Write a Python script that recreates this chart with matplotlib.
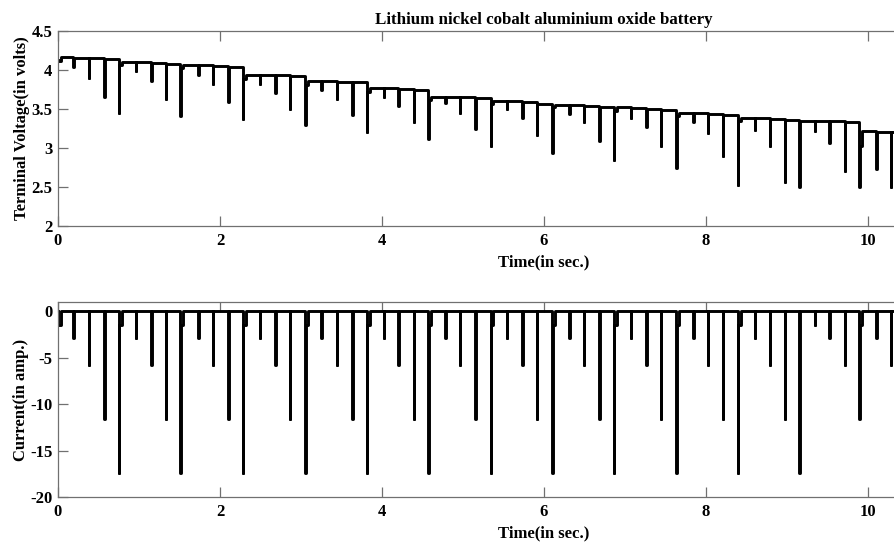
import matplotlib
matplotlib.use('Agg')
import matplotlib.pyplot as plt

plt.rcParams['font.family'] = ['Liberation Serif', 'DejaVu Serif']
plt.rcParams['font.weight'] = 'bold'
plt.rcParams['axes.unicode_minus'] = False

# pulse times (s)
pulse_t = [0.00, 0.19, 0.38, 0.57, 0.75,
           0.96, 1.15, 1.33, 1.51,
           1.73, 1.91, 2.10, 2.28,
           2.49, 2.68, 2.86, 3.05,
           3.25, 3.44, 3.63, 3.81,
           4.02, 4.20, 4.39, 4.57,
           4.78, 4.96, 5.15, 5.34,
           5.54, 5.73, 5.91, 6.10,
           6.31, 6.49, 6.68, 6.86,
           7.07, 7.26, 7.44, 7.63,
           7.84, 8.02, 8.21, 8.39,
           8.60, 8.79, 8.97, 9.15,
           9.34, 9.52, 9.71, 9.89,
           10.10, 10.28]

# pulse current (A)
pulse_i = [-1.5, -2.9, -5.8, -11.6, -17.4,
           -2.9, -5.8, -11.6, -17.4,
           -2.9, -5.8, -11.6, -17.4,
           -2.9, -5.8, -11.6, -17.4,
           -2.9, -5.8, -11.6, -17.4,
           -2.9, -5.8, -11.6, -17.4,
           -2.9, -5.8, -11.6, -17.4,
           -2.9, -5.8, -11.6, -17.4,
           -2.9, -5.8, -11.6, -17.4,
           -2.9, -5.8, -11.6, -17.4,
           -2.9, -5.8, -11.6, -17.4,
           -2.9, -5.8, -11.6, -17.4,
           -1.5, -2.9, -5.8, -11.6,
           -2.9, -5.8]

# short low-current tail after some pulses (A), 0 = none
tail_i = [-1.5, 0, 0, 0, -1.5,
          0, 0, 0, -1.5,
          0, 0, 0, -1.5,
          0, 0, 0, -1.5,
          0, 0, 0, -1.5,
          0, 0, 0, -1.5,
          0, 0, 0, -1.5,
          0, 0, 0, -1.5,
          0, 0, 0, -1.5,
          0, 0, 0, -1.5,
          0, 0, 0, -1.5,
          0, 0, 0, 0,
          0, 0, 0, -1.5,
          0, 0]

# terminal voltage just before each pulse (V)
v_pre = [4.13, 4.17, 4.16, 4.15, 4.14,
         4.10, 4.10, 4.09, 4.08,
         4.06, 4.06, 4.05, 4.04,
         3.94, 3.94, 3.93, 3.92,
         3.86, 3.86, 3.85, 3.84,
         3.77, 3.77, 3.76, 3.75,
         3.66, 3.66, 3.65, 3.64,
         3.60, 3.60, 3.59, 3.57,
         3.55, 3.55, 3.54, 3.53,
         3.52, 3.51, 3.50, 3.49,
         3.45, 3.45, 3.43, 3.42,
         3.39, 3.38, 3.37, 3.36,
         3.35, 3.34, 3.34, 3.33,
         3.22, 3.21]

# voltage dip during each pulse (V)
v_min = [4.12, 4.04, 3.90, 3.66, 3.45,
         3.99, 3.86, 3.63, 3.41,
         3.93, 3.82, 3.59, 3.37,
         3.82, 3.71, 3.50, 3.29,
         3.74, 3.63, 3.42, 3.21,
         3.65, 3.54, 3.33, 3.12,
         3.58, 3.45, 3.24, 3.02,
         3.50, 3.39, 3.17, 2.94,
         3.44, 3.33, 3.09, 2.85,
         3.39, 3.27, 3.03, 2.74,
         3.33, 3.19, 2.90, 2.53,
         3.23, 3.03, 2.57, 2.50,
         3.22, 3.06, 2.71, 2.50,
         2.73, 2.50]

# voltage during the tail (V)
v_tail = [4.12, None, None, None, 4.06,
          None, None, None, 4.02,
          None, None, None, 3.89,
          None, None, None, 3.81,
          None, None, None, 3.72,
          None, None, None, 3.62,
          None, None, None, 3.56,
          None, None, None, 3.52,
          None, None, None, 3.48,
          None, None, None, 3.41,
          None, None, None, 3.34,
          None, None, None, None,
          None, None, None, 3.02,
          None, None]

v_end = 3.21
t_end = 10.4

pw = 0.006   # pulse width
tw = 0.03    # tail width

vx, vy, ix, iy = [], [], [], []
for k, t in enumerate(pulse_t):
    vx += [t, t, t + pw]
    vy += [v_pre[k], v_min[k], v_min[k]]
    ix += [t, t, t + pw]
    iy += [0, pulse_i[k], pulse_i[k]]
    end = t + pw
    if tail_i[k]:
        vx += [end, end + tw]
        vy += [v_tail[k], v_tail[k]]
        ix += [end, end + tw]
        iy += [tail_i[k], tail_i[k]]
        end = end + tw
    nxt = v_pre[k + 1] if k + 1 < len(pulse_t) else v_end
    vx.append(end)
    vy.append(nxt)
    ix.append(end)
    iy.append(0)
vx.append(t_end)
vy.append(v_end)
ix.append(t_end)
iy.append(0)

W, H = 895, 542
fig = plt.figure(figsize=(W / 100, H / 100), dpi=100)
# axes run past the right edge, the original figure was cropped there
ax1 = fig.add_axes([58 / W, 1 - 226 / H, 972 / W, 195 / H])
ax2 = fig.add_axes([58 / W, 1 - 497 / H, 972 / W, 195 / H])

ax1.plot(vx, vy, color='black', lw=2.1)
ax2.plot(ix, iy, color='black', lw=2.1)

ax1.set_xlim(0, 12)
ax1.set_ylim(2, 4.5)
ax1.set_yticks([2, 2.5, 3, 3.5, 4, 4.5])
ax1.set_yticklabels(['2', '2.5', '3', '3.5', '4', '4.5'])
ax2.set_xlim(0, 12)
ax2.set_ylim(-20, 1)
ax2.set_yticks([-20, -15, -10, -5, 0])

fs = 12
for ax in (ax1, ax2):
    ax.set_xticks([0, 2, 4, 6, 8, 10])
    ax.tick_params(direction='in', top=True, right=True, length=7, width=0.9,
                   color='#707070', labelsize=fs)
    ax.tick_params(axis='x', pad=5)
    ax.tick_params(axis='y', pad=4)
    for lab in ax.get_xticklabels() + ax.get_yticklabels():
        lab.set_fontweight('bold')
    for s in ax.spines.values():
        s.set_color('#707070')
        s.set_linewidth(0.9)
    ax.set_xlabel('Time(in sec.)', fontsize=fs, fontweight='bold', labelpad=4)

ax1.set_ylabel('Terminal Voltage(in volts)', fontsize=fs, fontweight='bold', labelpad=1)
ax2.set_ylabel('Current(in amp.)', fontsize=fs, fontweight='bold', labelpad=1)
ax1.set_title('Lithium nickel cobalt aluminium oxide battery', fontsize=12.2,
              fontweight='bold', pad=5)

fig.savefig('out.png', dpi=100)
